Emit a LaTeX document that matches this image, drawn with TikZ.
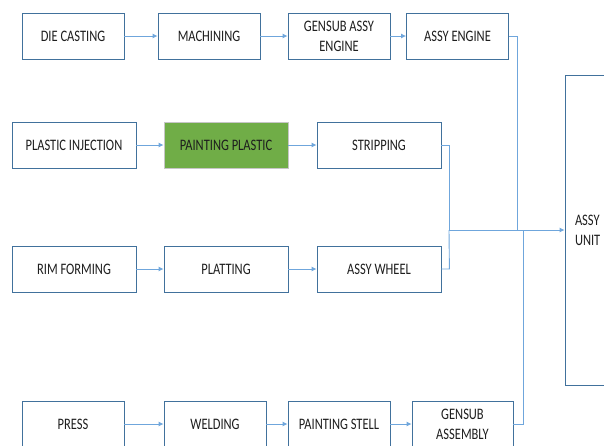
\documentclass[tikz,border=0pt]{standalone}
\usepackage{fontspec}
\setmainfont{Carlito}[FakeStretch=0.78]
\usetikzlibrary{arrows.meta}
\definecolor{boxline}{HTML}{41719C}
\definecolor{flowline}{HTML}{6FA6DC}
\definecolor{paintgreen}{HTML}{70AD47}
\definecolor{ink}{HTML}{1E1E1E}
\tikzset{
  stepbox/.style={draw=boxline, line width=0.8pt, fill=white, text=ink,
    minimum height=46pt, align=center, inner sep=2pt,
    font=\fontsize{16}{20}\selectfont},
  narrowbox/.style={stepbox, minimum width=102pt},
  widebox/.style={stepbox, minimum width=124pt},
  greenbox/.style={widebox, fill=paintgreen, draw=gray!45},
  flow/.style={draw=flowline, line width=0.9pt},
  flowarrow/.style={flow, -{Latex[length=5pt,width=5pt]}}
}

\begin{document}
\begin{tikzpicture}[x=1pt,y=-1pt]
    \useasboundingbox (0,0) rectangle (604,445);
    \begin{scope}
    \clip (0,0) rectangle (604,445);
    % engine line
    \node[narrowbox] (diecast) at (73,36) {DIE CASTING};
    \node[narrowbox] (machining) at (209,36) {MACHINING};
    \node[narrowbox] (gensubeng) at (339,36) {GENSUB ASSY\\ENGINE};
    \node[narrowbox] (assyeng) at (457.5,36) {ASSY ENGINE};
    % plastic line
    \node[widebox] (plastinj) at (74,145) {PLASTIC INJECTION};
    \node[greenbox] (paintplast) at (226,145) {PAINTING PLASTIC};
    \node[widebox] (stripping) at (379,145) {STRIPPING};
    % wheel line
    \node[widebox] (rimform) at (74,269) {RIM FORMING};
    \node[widebox] (platting) at (226,269) {PLATTING};
    \node[widebox] (assywheel) at (379,269) {ASSY WHEEL};
    % body line
    \node[narrowbox] (press) at (73,424) {PRESS};
    \node[narrowbox] (welding) at (215,424) {WELDING};
    \node[narrowbox] (paintstell) at (339,424) {PAINTING STELL};
    \node[stepbox, minimum width=101pt] (gensubasm) at (462.5,424) {GENSUB\\ASSEMBLY};
    % final assembly
    \node[stepbox, minimum width=110pt, minimum height=310pt, text width=90pt,
      inner xsep=10pt, align=left] (assyunit) at (620,230) {ASSY\\UNIT};

    \coordinate (joinwheel) at (449,230);
    \coordinate (joineng) at (517,230);
    \coordinate (joinbody) at (523,230);

    \draw[flowarrow] (diecast) -- (machining);
    \draw[flowarrow] (machining) -- (gensubeng);
    \draw[flowarrow] (gensubeng) -- (assyeng);
    \draw[flowarrow] (plastinj) -- (paintplast);
    \draw[flowarrow] (paintplast) -- (stripping);
    \draw[flowarrow] (rimform) -- (platting);
    \draw[flowarrow] (platting) -- (assywheel);
    \draw[flowarrow] (press) -- (welding);
    \draw[flowarrow] (welding) -- (paintstell);
    \draw[flowarrow] (paintstell) -- (gensubasm);

    \draw[flow] (assyeng.east) -| (joineng);
    \draw[flowarrow] (stripping.east) -- ++(8,0) |- (assyunit.west);
    \draw[flow] (assywheel.east) -- ++(8,0) -- (joinwheel);
    \draw[flow] (gensubasm.east) -| (joinbody);
    \end{scope}
  \end{tikzpicture}
\end{document}
